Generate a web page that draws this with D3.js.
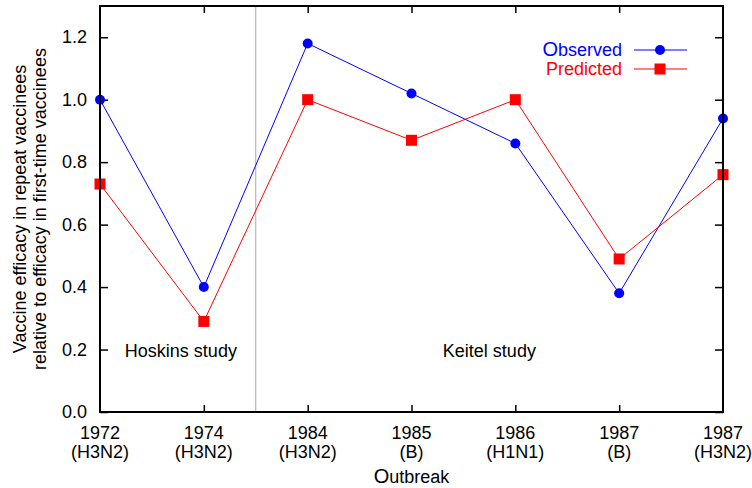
<!DOCTYPE html>
<html lang="en">
  <head>
    <meta charset="utf-8" />
    <title>Vaccine efficacy in repeat vaccinees</title>
    <script src="https://d3js.org/d3.v7.min.js"></script>
    <style>
      body { margin: 0; background: #fff; }
      svg text { font-family: "Liberation Sans", Arial, sans-serif; }
    </style>
  </head>
  <body>
    <div id="chart"></div>
    <script>
      // Outbreak categories (year + strain)
      const years = ["1972", "1974", "1984", "1985", "1986", "1987", "1987"];
      const strains = ["(H3N2)", "(H3N2)", "(H3N2)", "(B)", "(H1N1)", "(B)", "(H3N2)"];

      // Series values
      const observed = [1.0, 0.4, 1.18, 1.02, 0.86, 0.38, 0.94];
      const predicted = [0.73, 0.29, 1.0, 0.87, 1.0, 0.49, 0.76];

      const yTicks = [0, 0.2, 0.4, 0.6, 0.8, 1.0, 1.2];

      const fs = 18;

      const margin = { top: 6, right: 29, bottom: 76, left: 100 },
        width = 752 - margin.left - margin.right,
        height = 488 - margin.top - margin.bottom;

      const svg = d3
        .select("#chart")
        .append("svg")
        .attr("width", 752)
        .attr("height", 488)
        .append("g")
        .attr("transform", `translate(${margin.left},${margin.top})`);

      const idx = d3.range(years.length);
      const x = d3.scaleLinear().domain([0, years.length - 1]).range([0, width]);
      const y = d3.scaleLinear().domain([0, 1.3]).range([height, 0]);

      // Axes with inward ticks (left + bottom), mirrored on top + right
      const yAxis = svg
        .append("g")
        .call(d3.axisLeft(y).tickValues(yTicks).tickSize(-8).tickPadding(13).tickFormat(d3.format(".1f")));
      svg
        .append("g")
        .attr("transform", `translate(${width},0)`)
        .call(d3.axisRight(y).tickValues(yTicks).tickSize(-8).tickFormat(""));
      svg
        .append("g")
        .attr("transform", `translate(0,${height})`)
        .call(d3.axisBottom(x).tickValues(idx.slice(1, -1)).tickSize(-7).tickFormat(""));
      svg
        .append("g")
        .call(d3.axisTop(x).tickValues(idx.slice(1, -1)).tickSize(-7).tickFormat(""));

      svg.selectAll(".domain").remove();
      svg.selectAll(".tick line").attr("stroke", "#000").attr("stroke-width", 1.5);
      yAxis.selectAll("text").attr("font-size", fs).attr("fill", "#000");

      // Category labels, two lines each
      const xLab = svg
        .append("g")
        .selectAll("text")
        .data(idx)
        .join("text")
        .attr("x", (i) => x(i))
        .attr("text-anchor", "middle")
        .attr("font-size", fs);
      xLab.append("tspan").attr("x", (i) => x(i)).attr("y", height + 27).text((i) => years[i]);
      xLab.append("tspan").attr("x", (i) => x(i)).attr("y", height + 46).text((i) => strains[i]);

      // Divider between the two studies
      svg
        .append("line")
        .attr("x1", x(1.5))
        .attr("x2", x(1.5))
        .attr("y1", 0)
        .attr("y2", height)
        .attr("stroke", "#aaa")
        .attr("stroke-width", 1);

      svg
        .append("text")
        .attr("x", (x(0) + x(1.5)) / 2 + 3)
        .attr("y", 351)
        .attr("text-anchor", "middle")
        .attr("font-size", fs)
        .text("Hoskins study");
      svg
        .append("text")
        .attr("x", (x(1.5) + x(6)) / 2)
        .attr("y", 351)
        .attr("text-anchor", "middle")
        .attr("font-size", fs)
        .text("Keitel study");

      // Lines + markers
      const lineGen = d3
        .line()
        .x((d, i) => x(i))
        .y((d) => y(d));

      svg
        .append("path")
        .datum(observed)
        .attr("d", lineGen)
        .attr("fill", "none")
        .attr("stroke", "#0000ff")
        .attr("stroke-width", 1);
      svg
        .append("path")
        .datum(predicted)
        .attr("d", lineGen)
        .attr("fill", "none")
        .attr("stroke", "#ff0000")
        .attr("stroke-width", 1);

      svg
        .selectAll("circle.obs")
        .data(observed)
        .join("circle")
        .attr("class", "obs")
        .attr("cx", (d, i) => x(i))
        .attr("cy", (d) => y(d))
        .attr("r", 5)
        .attr("fill", "#0000ff");
      svg
        .selectAll("rect.pred")
        .data(predicted)
        .join("rect")
        .attr("class", "pred")
        .attr("x", (d, i) => x(i) - 5.5)
        .attr("y", (d) => y(d) - 5.5)
        .attr("width", 11)
        .attr("height", 11)
        .attr("fill", "#ff0000");

      // Frame
      svg
        .append("rect")
        .attr("width", width)
        .attr("height", height)
        .attr("fill", "none")
        .attr("stroke", "#000")
        .attr("stroke-width", 2);

      // Legend
      const legendItems = [
        { label: "Observed", color: "#0000ff", shape: "circle" },
        { label: "Predicted", color: "#ff0000", shape: "square" },
      ];
      const legend = svg.append("g").attr("transform", `translate(${522}, ${44})`);
      legendItems.forEach((item, i) => {
        const g = legend.append("g").attr("transform", `translate(0, ${i * 19})`);
        const t = g
          .append("text")
          .attr("x", 0)
          .attr("y", 6)
          .attr("text-anchor", "end")
          .attr("font-size", fs)
          .attr("fill", item.color);
        if (item.shape === "circle") {
          t.append("tspan").attr("font-size", 20).text(item.label[0]);
          t.append("tspan").text(item.label.slice(1));
        } else {
          t.text(item.label);
        }
        g.append("line")
          .attr("x1", 12)
          .attr("x2", 65)
          .attr("stroke", item.color)
          .attr("stroke-width", 1);
        if (item.shape === "circle") {
          g.append("circle").attr("cx", 38).attr("r", 5).attr("fill", item.color);
        } else {
          g.append("rect").attr("x", 32.5).attr("y", -5.5).attr("width", 11).attr("height", 11).attr("fill", item.color);
        }
      });

      // Axis titles
      const yTitle = svg
        .append("text")
        .attr("transform", `translate(-74, ${height / 2}) rotate(-90)`)
        .attr("text-anchor", "middle")
        .attr("font-size", fs);
      yTitle.append("tspan").attr("x", 0).attr("y", 0).text("Vaccine efficacy in repeat vaccinees");
      yTitle.append("tspan").attr("x", 0).attr("y", 20).text("relative to efficacy in first-time vaccinees");

      const xTitle = svg
        .append("text")
        .attr("x", width / 2)
        .attr("y", height + 71)
        .attr("text-anchor", "middle")
        .attr("font-size", fs);
      xTitle.append("tspan").attr("font-size", 20).text("O");
      xTitle.append("tspan").text("utbreak");
    </script>
  </body>
</html>
